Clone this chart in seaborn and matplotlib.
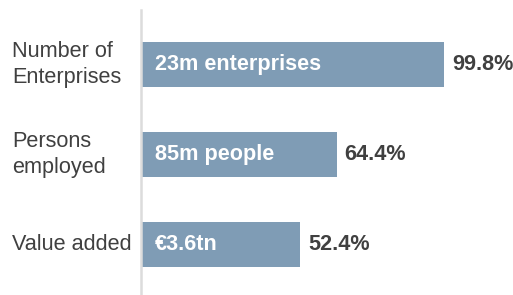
import matplotlib
matplotlib.use("Agg")
import matplotlib.pyplot as plt
import matplotlib.transforms as mtransforms
import seaborn as sns
import pandas as pd

categories = ["Number of\nEnterprises", "Persons\nemployed", "Value added"]
shares = [99.8, 64.4, 52.4]
inner_labels = ["23m enterprises", "85m people", "€3.6tn"]
value_labels = ["99.8%", "64.4%", "52.4%"]

sns.set_theme(style="white")
plt.rcParams['font.family'] = ['Liberation Sans', 'DejaVu Sans']

df = pd.DataFrame({"category": categories, "share": shares})

W, H = 513, 295
fig = plt.figure(figsize=(W / 100, H / 100), dpi=100)
ax = fig.add_axes([141 / W, 0, 1 - 141 / W, (H - 10) / H])

sns.barplot(data=df, x="share", y="category", orient="h", color="#7f9cb5",
            saturation=1, width=0.5, linewidth=0, ax=ax)

ax.set_xlim(0, 122.5)
ax.set_ylim(2.561, -0.606)
ax.set_xlabel("")
ax.set_ylabel("")
ax.set_xticks([])
ax.set_yticks([])
for s in ["top", "right", "bottom"]:
    ax.spines[s].set_visible(False)
ax.spines["left"].set_color("#dcdcdc")
ax.spines["left"].set_linewidth(1.8)

fs = 15.6
txt = "#404040"
trans = mtransforms.blended_transform_factory(fig.transFigure, ax.transData)
for i, (cat, v, inner, vl) in enumerate(zip(categories, shares, inner_labels, value_labels)):
    ax.text(12 / W, i, cat, transform=trans, ha="left", va="center",
            fontsize=fs, color=txt, linespacing=1.3)
    ax.annotate(inner, xy=(0, i), xytext=(14, 0), textcoords="offset pixels",
                ha="left", va="center", fontsize=fs, fontweight="bold", color="white")
    ax.annotate(vl, xy=(v, i), xytext=(8, 0), textcoords="offset pixels",
                ha="left", va="center", fontsize=fs, fontweight="bold", color=txt)

fig.savefig("out.png", dpi=100)
